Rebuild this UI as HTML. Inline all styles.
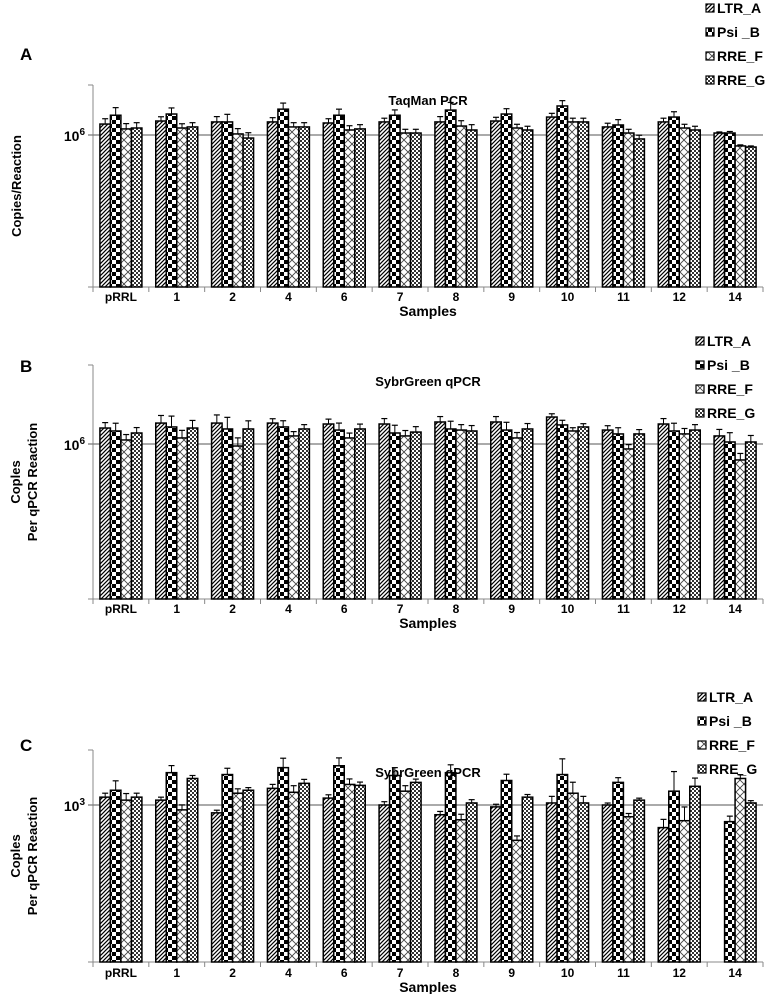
<!DOCTYPE html>
<html><head><meta charset="utf-8"><style>
body{margin:0;background:#fff;}
svg{display:block;font-family:"Liberation Sans",Arial,sans-serif;}
</style></head><body>
<svg id="chart" width="778" height="994" viewBox="0 0 778 994" xmlns="http://www.w3.org/2000/svg">
<defs>
<pattern id="pLTR" patternUnits="userSpaceOnUse" width="4" height="4"><rect width="4" height="4" fill="#fff"/><path d="M-1,5 L5,-1 M-1,1 L1,-1 M3,5 L5,3" stroke="#000" stroke-width="1.2"/></pattern>
<pattern id="pPsi" patternUnits="userSpaceOnUse" width="8" height="8"><rect width="8" height="8" fill="#fff"/><rect width="4" height="4" fill="#000"/><rect x="4" y="4" width="4" height="4" fill="#000"/></pattern>
<pattern id="pF" patternUnits="userSpaceOnUse" width="8" height="8"><rect width="8" height="8" fill="#fff"/><path d="M0,0 L8,8 M8,0 L0,8" stroke="#444" stroke-width="0.9"/></pattern>
<pattern id="pG" patternUnits="userSpaceOnUse" width="4" height="4"><rect width="4" height="4" fill="#fff"/><rect width="2" height="2" fill="#333"/><rect x="2" y="2" width="2" height="2" fill="#333"/></pattern>
</defs>
</svg>
<script>
const categories = ["pRRL","1","2","4","6","7","8","9","10","11","12","14"];
const seriesNames = ["LTR_A","Psi _B","RRE_F","RRE_G"];
// log10 values, panel A (TaqMan)
const aLTR = [6.072,6.092,6.086,6.086,6.079,6.086,6.086,6.092,6.118,6.053,6.086,6.013];
const aPsi = [6.13,6.138,6.086,6.17,6.13,6.13,6.164,6.138,6.191,6.066,6.118,6.013];
const aF   = [6.04,6.046,6.007,6.053,6.033,6.013,6.059,6.046,6.086,6.013,6.046,5.928];
const aG   = [6.046,6.053,5.98,6.053,6.04,6.013,6.033,6.033,6.086,5.974,6.033,5.921];
const aErr = [0.1,0.08,0.1,0.08,0.08,0.07,0.1,0.07,0.07,0.07,0.07,0.02];
// panel B (SybrGreen)
const bLTR = [6.103,6.135,6.135,6.135,6.129,6.129,6.142,6.142,6.174,6.09,6.129,6.052];
const bPsi = [6.084,6.11,6.097,6.11,6.09,6.071,6.097,6.09,6.123,6.065,6.084,6.013];
const bF   = [6.026,6.039,5.987,6.052,6.039,6.052,6.09,6.039,6.084,5.968,6.065,5.897];
const bG   = [6.071,6.103,6.097,6.097,6.097,6.077,6.084,6.097,6.11,6.065,6.09,6.013];
const bErr = [0.1,0.14,0.15,0.08,0.09,0.1,0.1,0.1,0.06,0.08,0.1,0.12];
// panel C (SybrGreen)
const cLTR = [3.05,3.031,2.95,3.106,3.044,3.0,2.938,2.988,3.013,3.0,2.856,null];
const cPsi = [3.094,3.206,3.194,3.238,3.25,3.188,3.206,3.156,3.194,3.144,3.088,2.894];
const cF   = [3.031,2.969,3.075,3.081,3.131,3.088,2.906,2.775,3.075,2.925,2.9,3.169];
const cG   = [3.05,3.169,3.094,3.138,3.125,3.144,3.013,3.05,3.013,3.031,3.119,3.013];
const cErr = [0.12,0.09,0.08,0.12,0.1,0.1,0.1,0.08,0.2,0.06,0.25,0.07];

const NS="http://www.w3.org/2000/svg";
const svg=document.getElementById('chart');
function mk(tag,attrs,parent){const e=document.createElementNS(NS,tag);for(const k in attrs)e.setAttribute(k,attrs[k]);(parent||svg).appendChild(e);return e;}
const fills=["url(#pLTR)","url(#pPsi)","url(#pF)","url(#pG)"];
const panels=[
 {id:"a",letter:"A",title:"TaqMan PCR",ylab:["Copies/Reaction"],top:85,bottom:287,ref:135,refVal:6,ppd:152,exp:"6",series:[aLTR,aPsi,aF,aG],err:aErr,legY:8,legX:706,titleY:105,letterY:60,lab:14,sam:29},
 {id:"b",letter:"B",title:"SybrGreen qPCR",ylab:["Coples","Per qPCR Reaction"],top:365,bottom:599,ref:444,refVal:6,ppd:155,exp:"6",series:[bLTR,bPsi,bF,bG],err:bErr,legY:341,legX:696,titleY:386,letterY:372,lab:14,sam:29},
 {id:"c",letter:"C",title:"SybrGreen qPCR",ylab:["Coples","Per qPCR Reaction"],top:750,bottom:962,ref:805,refVal:3,ppd:157,exp:"3",series:[cLTR,cPsi,cF,cG],err:cErr,legY:697,legX:698,titleY:777,letterY:751,lab:15,sam:30}
];
const x0=93,x1=763,cw=(x1-x0)/categories.length,bw=10.5;
panels.forEach(p=>{
 const g=mk('g',{});
 
 
 const y=v=>p.ref-(v-p.refVal)*p.ppd;
 const L=mk('text',{x:20,y:p.letterY,'font-size':17,'font-weight':'bold'},g);L.textContent=p.letter;
 
 
 const ax=mk('line',{x1:x0,y1:p.top,x2:x0,y2:p.bottom,stroke:'#888','stroke-width':1},g);
 
 
 const bx=mk('line',{x1:x0-5,y1:p.bottom,x2:x1,y2:p.bottom,stroke:'#888','stroke-width':1},g);
 
 
 for(let i=0;i<=categories.length;i++){mk('line',{x1:x0+i*cw,y1:p.bottom,x2:x0+i*cw,y2:p.bottom+5,stroke:'#888'},g);}
 mk('line',{x1:x0-5,y1:p.top,x2:x0,y2:p.top,stroke:'#888'},g);
 const rl=mk('line',{x1:x0-5,y1:y(p.refVal),x2:x1,y2:y(p.refVal),stroke:'#777','stroke-width':1.2},g);
 
 
 const tl=mk('text',{x:x0-8,y:y(p.refVal)+6,'font-size':14,'font-weight':'bold','text-anchor':'end'},g);
 
 
 tl.textContent='10';const ts=mk('tspan',{'font-size':10,dy:-6},tl);ts.textContent=p.exp;
 const n=p.ylab.length;
 p.ylab.forEach((s,k)=>{const cx=n===1?21:20+k*17,cy=(p.top+p.bottom)/2;
  const t=mk('text',{x:cx,y:cy,'font-size':13,'font-weight':'bold','text-anchor':'middle',transform:`rotate(-90 ${cx} ${cy})`},g);t.textContent=s;
  
  });
 categories.forEach((c,i)=>{
  const cx=x0+cw*(i+0.5);
  const xl=mk('text',{x:cx,y:p.bottom+p.lab,'font-size':12,'font-weight':'bold','text-anchor':'middle'},g);xl.textContent=c;
  
  
  p.series.forEach((arr,s)=>{
   const v=arr[i];if(v==null)return;
   const bxp=cx-2*bw+s*bw, yt=y(v);
   const r=mk('rect',{x:bxp,y:yt,width:bw,height:p.bottom-yt,fill:fills[s],stroke:'#000','stroke-width':1.5},g);
   
   
   const e=p.err[i]*(s===1?1:0.7)*(p.id==='c'&&(s===0||s===3)?0.6:1);
   const ey=yt-e*p.ppd*0.5;
   mk('line',{x1:bxp+bw/2,y1:yt,x2:bxp+bw/2,y2:ey,stroke:'#000','stroke-width':1},g);
   mk('line',{x1:bxp+bw/2-3,y1:ey,x2:bxp+bw/2+3,y2:ey,stroke:'#000','stroke-width':1.2},g);
  });
 });
 const T=mk('text',{x:(x0+x1)/2,y:p.titleY,'font-size':13,'font-weight':'bold','text-anchor':'middle'},g);T.textContent=p.title;
 
 
 const sx=mk('text',{x:(x0+x1)/2,y:p.bottom+p.sam,'font-size':14,'font-weight':'bold','text-anchor':'middle'},g);sx.textContent='Samples';
 
 
 seriesNames.forEach((s,k)=>{
  const ly=p.legY+k*24;
  const lg=mk('g',{},g);
  
  
  mk('rect',{x:p.legX,y:ly-4,width:8,height:8,fill:fills[k],stroke:'#000','stroke-width':1.2},lg);
  const t=mk('text',{x:p.legX+11,y:ly+5,'font-size':14,'font-weight':'bold'},lg);t.textContent=s;
 });
});
</script>
</body></html>
